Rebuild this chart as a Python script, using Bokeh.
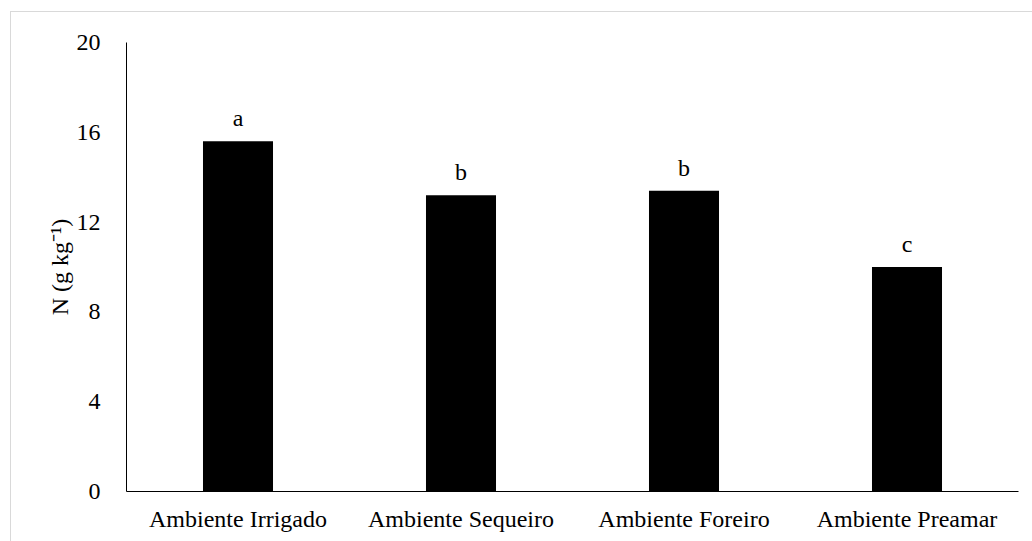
from bokeh.plotting import figure
from bokeh.models import FixedTicker, Range1d, FactorRange
from bokeh.core.properties import value
from bokeh.embed import file_html
from bokeh.resources import INLINE

categories = ["Ambiente Irrigado", "Ambiente Sequeiro", "Ambiente Foreiro", "Ambiente Preamar"]
n_values = [15.6, 13.2, 13.4, 10.0]
letters = ["a", "b", "b", "c"]
y_ticks = [0, 4, 8, 12, 16, 20]
y_label = "N (g kg\u207b\u00b9)"

FONT = "Liberation Serif"

p = figure(
    x_range=FactorRange(*categories, range_padding=0),
    y_range=Range1d(0, 20),
    frame_width=892, frame_height=449,
    min_border_left=115, min_border_right=14, min_border_top=30, min_border_bottom=50,
    output_backend="svg", toolbar_location=None,
)
p.styles = {
    "margin-left": "10px",
    "margin-top": "11px",
    "border-left": "1px solid #d9d9d9",
    "border-top": "1px solid #d9d9d9",
}

p.vbar(x=categories, top=n_values, width=0.314, fill_color="black", line_color=None)
p.text(x=categories, y=n_values, text=letters, y_offset=-23,
       text_align="center", text_baseline="alphabetic",
       text_font=value(FONT), text_font_size="24px", text_color="black")

for ax in (p.xaxis[0], p.yaxis[0]):
    ax.axis_line_color = "black"
    ax.axis_line_width = 1
    ax.major_tick_line_color = None
    ax.minor_tick_line_color = None
    ax.major_label_text_font = FONT
    ax.major_label_text_font_size = "24px"
    ax.major_label_text_color = "black"

p.xaxis.major_label_standoff = 8
p.yaxis.ticker = FixedTicker(ticks=y_ticks)
p.yaxis.major_label_standoff = 20
p.yaxis.axis_label = y_label
p.yaxis.axis_label_text_font = FONT
p.yaxis.axis_label_text_font_size = "24px"
p.yaxis.axis_label_text_font_style = "normal"
p.yaxis.axis_label_text_color = "black"
p.yaxis.axis_label_standoff = 1

p.xgrid.grid_line_color = None
p.ygrid.grid_line_color = None
p.outline_line_color = None

open("out.html", "w").write(file_html(p, INLINE))
